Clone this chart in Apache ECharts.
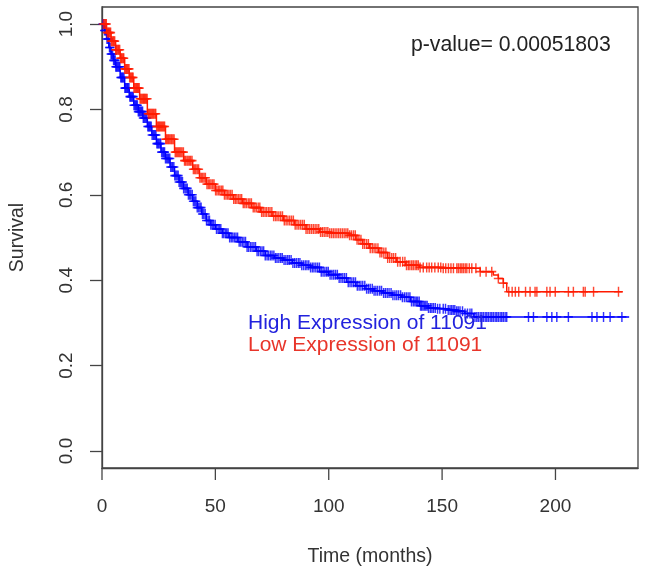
<!DOCTYPE html>
<html>
<head>
<meta charset="utf-8">
<script src="https://cdn.jsdelivr.net/npm/echarts@6/dist/echarts.min.js"></script>
<style>
html,body{margin:0;padding:0;background:#fff;}
#chart{width:651px;height:569px;}
</style>
</head>
<body>
<div id="chart"></div>
<script>
// ---- data ----
var xTicks = [0, 50, 100, 150, 200];
var yTicks = [0.0, 0.2, 0.4, 0.6, 0.8, 1.0];

// High expression (blue) KM step knots
var highTimes = [0,1,2,3,4,5,6,8,10,12,14,16,18,20,22,24,26,28,30,32,34,36,38,40,42,44,46,48,50,53,56,60,64,68,72,76,80,84,88,92,96,100,104,108,112,116,120,124,128,132,136,140,144,148,152,156,160,164,232.5];
var highSurv  = [1.0,0.985,0.965,0.945,0.93,0.915,0.90,0.875,0.85,0.83,0.81,0.795,0.78,0.76,0.74,0.72,0.70,0.685,0.665,0.645,0.63,0.615,0.60,0.585,0.57,0.555,0.54,0.53,0.52,0.51,0.50,0.49,0.478,0.468,0.458,0.452,0.447,0.44,0.435,0.43,0.42,0.413,0.405,0.395,0.387,0.38,0.375,0.37,0.365,0.36,0.35,0.34,0.335,0.333,0.33,0.327,0.322,0.314,0.314];
// High expression censor times
var highCensor = [0.4,0.8,1.1,1.5,1.9,2.2,2.6,2.9,3.3,3.6,4.0,4.3,4.7,5.1,5.5,5.8,6.1,6.4,6.8,7.2,7.6,7.9,8.3,8.6,9.0,9.3,9.7,10.1,10.4,10.8,11.2,11.5,11.9,12.3,12.6,13.0,13.4,13.8,14.1,14.5,14.9,15.2,15.6,16.0,16.4,16.7,17.1,17.5,17.9,18.2,18.6,19.0,19.4,19.8,20.2,20.6,20.9,21.3,21.7,22.1,22.6,23.0,23.4,23.8,24.2,24.6,25.0,25.5,25.9,26.3,26.8,27.2,27.6,28.0,28.5,29.0,29.4,29.9,30.3,30.8,31.2,31.7,32.1,32.6,33.1,33.6,34.0,34.5,35.0,35.5,36.0,36.6,37.1,37.6,38.1,38.7,39.2,39.8,40.3,40.9,41.4,42.0,42.6,43.2,43.7,44.3,44.9,45.5,46.1,46.8,47.4,48.0,48.6,49.2,49.9,50.5,51.2,51.8,52.4,53.1,53.7,54.4,55.0,55.6,56.3,57.0,57.7,58.4,59.1,59.8,60.5,61.2,61.9,62.6,63.3,64.0,64.7,65.5,66.2,67.0,67.7,68.4,69.1,69.9,70.6,71.3,72.0,72.8,73.5,74.3,75.0,75.8,76.5,77.2,78.0,78.8,79.5,80.3,81.1,81.9,82.6,83.4,84.2,85.0,85.8,86.6,87.3,88.1,88.9,89.7,90.4,91.2,92.0,92.8,93.5,94.3,95.1,95.9,96.7,97.5,98.3,99.1,99.8,100.6,101.4,102.2,103.0,103.8,104.6,105.4,106.2,107.0,107.8,108.6,109.4,110.2,111.0,111.8,112.6,113.4,114.2,115.0,115.9,116.7,117.5,118.3,119.2,120.0,120.8,121.6,122.5,123.3,124.2,125.0,125.8,126.6,127.5,128.3,129.2,130.0,130.8,131.7,132.5,133.4,134.2,135.0,135.8,136.5,137.3,138.0,138.6,139.2,139.9,140.5,141.0,141.6,142.2,142.8,143.4,144.0,144.8,145.5,146.2,147.0,148.0,149.0,150.5,151.5,152.7,153.5,154.2,154.9,155.6,156.4,157.1,157.9,159.0,160.1,161.2,162.3,163.1,164.5,165.3,166.0,166.8,167.5,168.2,169.0,169.7,170.4,171.2,171.9,172.6,173.4,174.1,174.8,175.6,176.3,177.0,177.8,178.5,188.1,190.3,196.2,198.4,200.6,205.7,216.1,218.3,221.2,224.1,229.3];

// Low expression (red) KM step knots
var lowTimes = [0,2,4,6,8,10,12,14,16.6,20,24,28,32,36,40,43,46,50,54,58,62,66,70,75,80,85,90,96,100,105,109,112,115,118,122,126,130,134,140,150,160,166.8,172.6,174.8,177,178.5,229.5];
var lowSurv  = [1.0,0.98,0.96,0.94,0.92,0.895,0.875,0.85,0.825,0.79,0.76,0.73,0.70,0.68,0.66,0.64,0.625,0.61,0.60,0.59,0.58,0.57,0.56,0.55,0.54,0.53,0.52,0.513,0.51,0.51,0.505,0.495,0.485,0.475,0.465,0.452,0.443,0.435,0.43,0.428,0.428,0.42,0.412,0.404,0.393,0.373,0.373];
// Low expression censor times
var lowCensor = [0.6,1.2,1.6,1.9,2.3,2.7,3.0,3.4,3.8,4.1,4.5,4.9,5.2,5.6,6.0,6.3,6.7,7.1,7.4,7.8,8.2,8.5,8.9,9.3,9.6,10.0,10.4,10.8,11.1,11.5,11.9,12.2,12.6,13.0,13.4,13.7,14.1,14.5,14.9,15.3,15.6,16.0,16.4,16.8,17.2,17.6,18.0,18.4,18.7,19.1,19.5,19.9,20.4,20.8,21.2,21.6,22.0,22.4,22.8,23.3,23.7,24.1,24.6,25.0,25.4,25.8,26.3,26.7,27.2,27.6,28.1,28.5,29.0,29.4,29.9,30.4,30.8,31.3,31.8,32.3,32.8,33.3,33.8,34.3,34.8,35.3,35.9,36.4,36.9,37.5,38.0,38.6,39.1,39.7,40.3,40.9,41.4,42.0,42.6,43.2,43.8,44.4,45.0,45.6,46.3,46.9,47.5,48.1,48.8,49.4,50.1,50.7,51.4,52.0,52.7,53.3,54.0,54.7,55.4,56.0,56.7,57.4,58.1,58.8,59.5,60.2,60.9,61.6,62.3,63.0,63.7,64.5,65.2,65.9,66.7,67.4,68.1,68.9,69.6,70.4,71.1,71.9,72.6,73.4,74.1,74.9,75.7,76.5,77.2,78.0,78.8,79.6,80.4,81.2,82.0,82.8,83.6,84.4,85.2,86.0,86.8,87.6,88.4,89.2,90.0,90.8,91.6,92.4,93.2,94.0,94.8,95.6,96.4,97.2,98.0,98.8,99.6,100.4,101.2,102.0,102.8,103.6,104.4,105.2,106.0,106.8,107.6,108.4,109.2,110.0,110.9,111.7,112.5,113.3,114.2,115.0,115.8,116.7,117.5,118.3,119.2,120.0,120.8,121.7,122.6,123.4,124.3,125.2,126.0,126.9,127.8,128.6,129.5,130.4,131.5,132.6,133.6,134.3,135.1,135.8,136.6,137.3,138.1,138.8,139.5,140.3,141.7,143.2,144.3,145.4,146.8,148.3,149.4,150.5,151.6,152.8,153.9,155.0,156.5,157.2,158.0,158.7,159.4,160.2,160.9,162.0,163.1,164.9,166.8,169.4,171.9,174.8,177.0,179.4,180.9,182.3,183.8,186.8,188.8,191.0,191.8,196.2,197.6,199.9,205.7,207.9,212.3,213.1,216.8,227.8];

var pValueText = 'p-value= 0.00051803';
var highLabel = 'High Expression of 11091';
var lowLabel = 'Low Expression of 11091';
var xName = 'Time (months)';
var yName = 'Survival';

// ---- build ----
function pairs(ts, ss) { return ts.map(function (t, i) { return [t, ss[i]]; }); }
function stepAt(ts, ss, t) {
  var v = ss[0];
  for (var i = 0; i < ts.length; i++) { if (ts[i] <= t) v = ss[i]; else break; }
  return v;
}
function censorPts(cs, ts, ss) { return cs.map(function (t) { return [t, stepAt(ts, ss, t)]; }); }

var BLUE = '#0000ff', RED = '#ff1a00';
var FONT = '"Liberation Sans", Arial, Helvetica, sans-serif';
var PLUS = 'path://M4.2,0h1.6v10h-1.6z M0,4.2h10v1.6h-10z';
var AXC = '#444';
var X_MAX = 236.4, Y_MIN = -0.04, Y_MAX = 1.04;
var TICK_LEN = 12;

var chart = echarts.init(document.getElementById('chart'), null, { renderer: 'canvas' });
chart.setOption({
  animation: false,
  backgroundColor: '#ffffff',
  grid: { left: 102, top: 7, width: 536, height: 461, show: true, borderColor: AXC, borderWidth: 1.3,
    backgroundColor: 'transparent', containLabel: false, outerBoundsMode: 'none' },
  xAxis: {
    type: 'value', min: 0, max: X_MAX, position: 'bottom',
    axisLine: { show: true, onZero: false, lineStyle: { color: AXC, width: 1.3 } },
    splitLine: { show: false },
    axisTick: { show: false },
    axisLabel: { customValues: xTicks, margin: 29, fontSize: 19, color: '#333', fontFamily: FONT },
    name: xName, nameLocation: 'middle', nameGap: 79,
    nameTextStyle: { fontSize: 19.5, color: '#333', fontFamily: FONT }
  },
  yAxis: {
    type: 'value', min: Y_MIN, max: Y_MAX, position: 'left',
    axisLine: { show: true, onZero: false, lineStyle: { color: AXC, width: 1.3 } },
    splitLine: { show: false },
    axisTick: { show: true, inside: false, length: TICK_LEN, customValues: yTicks, lineStyle: { color: AXC, width: 1.3 } },
    axisLabel: { customValues: yTicks, rotate: 90, margin: 26, fontSize: 19, color: '#333', fontFamily: FONT,
      formatter: function (v) { return v.toFixed(1); } },
    name: yName, nameLocation: 'middle', nameGap: 74, nameRotate: 90,
    nameTextStyle: { fontSize: 19.5, color: '#333', fontFamily: FONT }
  },
  series: [
    { type: 'line', step: 'end', data: pairs(highTimes, highSurv), showSymbol: false,
      lineStyle: { color: BLUE, width: 1.5 }, z: 2 },
    { type: 'scatter', data: censorPts(highCensor, highTimes, highSurv), symbol: PLUS, symbolSize: [9, 10],
      itemStyle: { color: BLUE }, z: 2 },
    { type: 'line', step: 'end', data: pairs(lowTimes, lowSurv), showSymbol: false,
      lineStyle: { color: RED, width: 1.5 }, z: 3 },
    { type: 'scatter', data: censorPts(lowCensor, lowTimes, lowSurv), symbol: PLUS, symbolSize: [9, 10],
      itemStyle: { color: RED }, z: 3 },
    // x-axis tick marks, positioned through the x scale, hanging below the bottom axis line
    { type: 'custom', silent: true, clip: false, z: 5,
      data: xTicks.map(function (v) { return [v, Y_MIN]; }),
      encode: { x: 0, y: 1 },
      renderItem: function (params, api) {
        var p = api.coord([api.value(0), api.value(1)]);
        return { type: 'line', shape: { x1: p[0], y1: p[1], x2: p[0], y2: p[1] + TICK_LEN },
          style: { stroke: AXC, lineWidth: 1.3 } };
      } }
  ],
  graphic: [
    { type: 'text', left: 411, top: 35, z: 10, style: { text: pValueText, font: '21.2px ' + FONT, fill: '#222' } },
    { type: 'text', left: 248, top: 313, z: 10, style: { text: highLabel, font: '21px ' + FONT, fill: '#2222dd' } },
    { type: 'text', left: 248, top: 335, z: 10, style: { text: lowLabel, font: '21px ' + FONT, fill: '#e8352a' } }
  ]
});
</script>
</body>
</html>
